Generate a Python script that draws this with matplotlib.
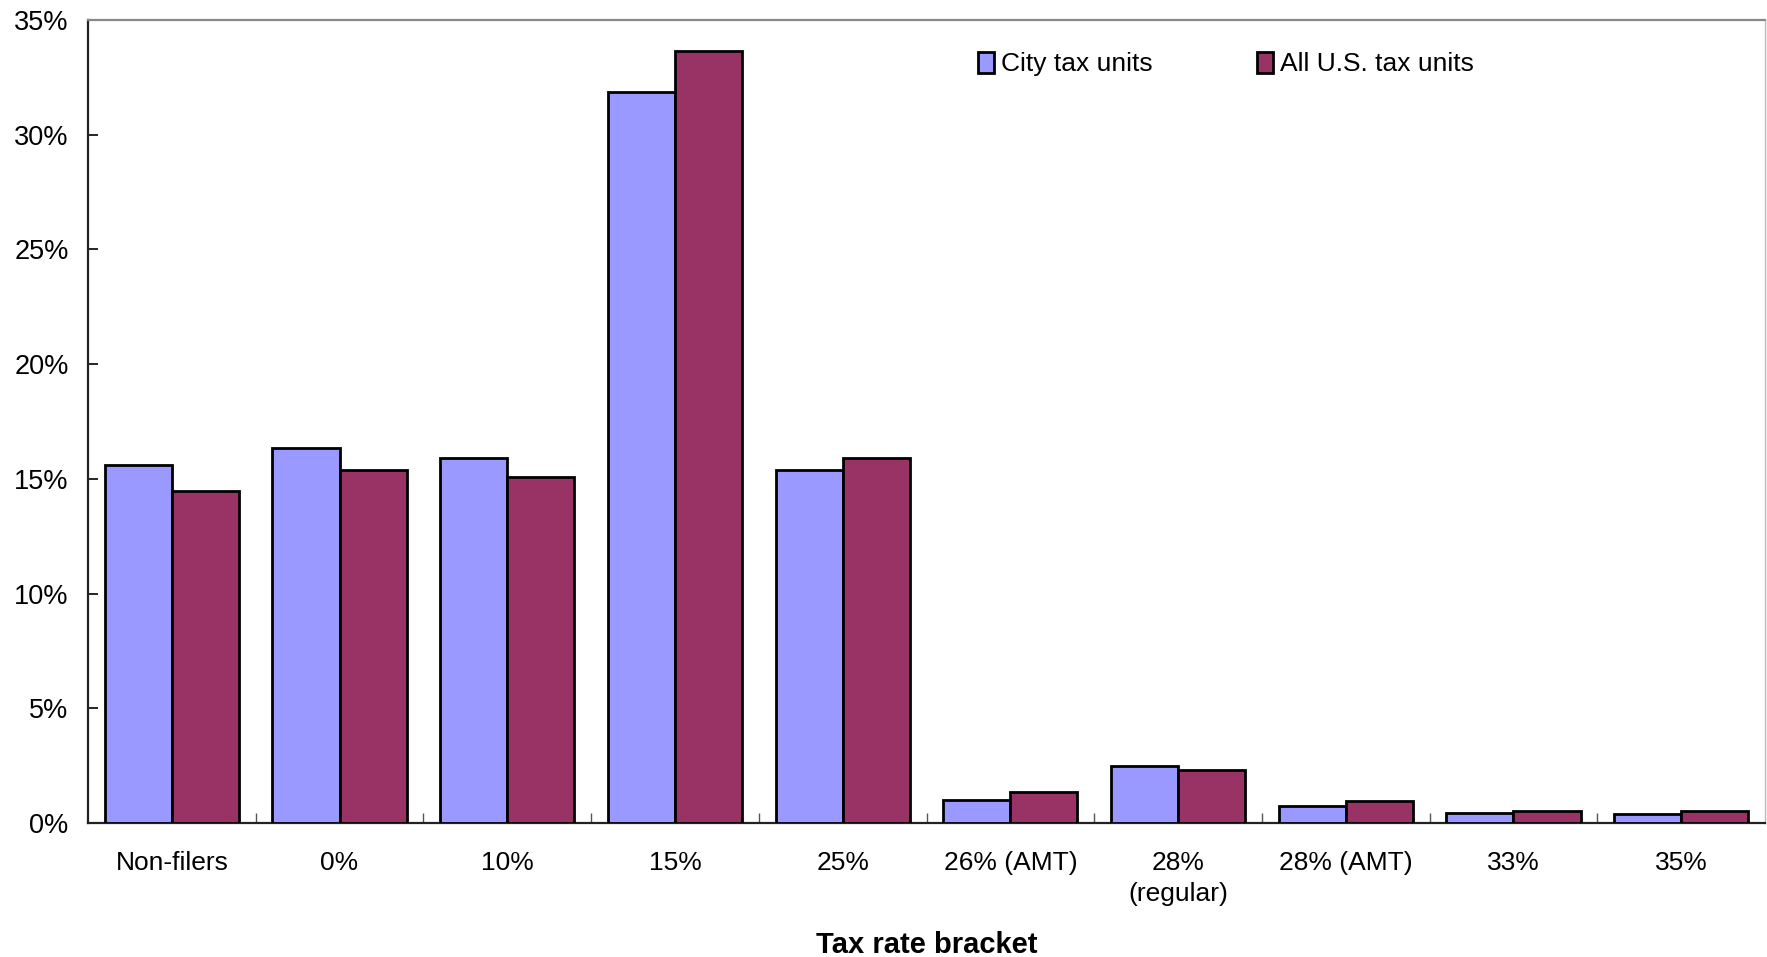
import matplotlib
matplotlib.use("Agg")
import matplotlib.pyplot as plt
import numpy as np
from matplotlib.ticker import FixedLocator, FuncFormatter

plt.rcParams['font.family'] = ['Liberation Sans', 'DejaVu Sans']

categories = ["Non-filers", "0%", "10%", "15%", "25%", "26% (AMT)", "28%\n(regular)",
              "28% (AMT)", "33%", "35%"]
city_units = [15.6, 16.35, 15.9, 31.85, 15.4, 1.02, 2.47, 0.72, 0.44, 0.39]
us_units = [14.45, 15.4, 15.1, 33.65, 15.9, 1.33, 2.32, 0.97, 0.51, 0.51]
series_names = ["City tax units", "All U.S. tax units"]
yticks = [0, 5, 10, 15, 20, 25, 30, 35]

W, H = 1767, 957
fig = plt.figure(figsize=(W / 100, H / 100), dpi=100)
ax = fig.add_axes([88 / W, 1 - 823 / H, (1765 - 88) / W, (823 - 20) / H])

x = np.arange(len(categories))
bw = 0.4
b1 = ax.bar(x - bw / 2, city_units, bw, color="#9999FF", edgecolor="black",
            linewidth=2.0, label=series_names[0], zorder=3)
b2 = ax.bar(x + bw / 2, us_units, bw, color="#993366", edgecolor="black",
            linewidth=2.0, label=series_names[1], zorder=3)

ax.set_xlim(-0.5, len(categories) - 0.5)
ax.set_ylim(0, 35)
ax.set_yticks(yticks)
ax.yaxis.set_major_formatter(FuncFormatter(lambda v, p: f"{int(v)}%"))
ax.tick_params(axis="y", direction="in", length=7, width=1.2, pad=14,
               labelsize=19.5, colors="black")

ax.set_xticks(x)
ax.set_xticklabels(categories, fontsize=19, linespacing=1.4)
ax.tick_params(axis="x", which="major", length=0, pad=20)
ax.xaxis.set_minor_locator(FixedLocator(np.arange(0.5, len(categories) - 0.5, 1.0)))
ax.tick_params(axis="x", which="minor", direction="in", length=7, width=1.0,
               colors="#555555")

for s in ["left", "bottom"]:
    ax.spines[s].set_color("#222222")
    ax.spines[s].set_linewidth(1.6)
ax.spines["top"].set_color("#888888")
ax.spines["top"].set_linewidth(1.6)
ax.spines["right"].set_color("#bbbbbb")
ax.spines["right"].set_linewidth(1.0)

ax.set_xlabel("Tax rate bracket", fontsize=21, fontweight="bold", labelpad=18)

leg = fig.legend(handles=[b1, b2], labels=series_names, loc="center left",
                 bbox_to_anchor=(978 / W, 1 - 64 / H), ncol=2, frameon=False,
                 fontsize=19, handlelength=0.62, handleheight=0.85,
                 handletextpad=0.25, columnspacing=3.95, borderpad=0,
                 borderaxespad=0)

fig.savefig("out.png", dpi=100)
